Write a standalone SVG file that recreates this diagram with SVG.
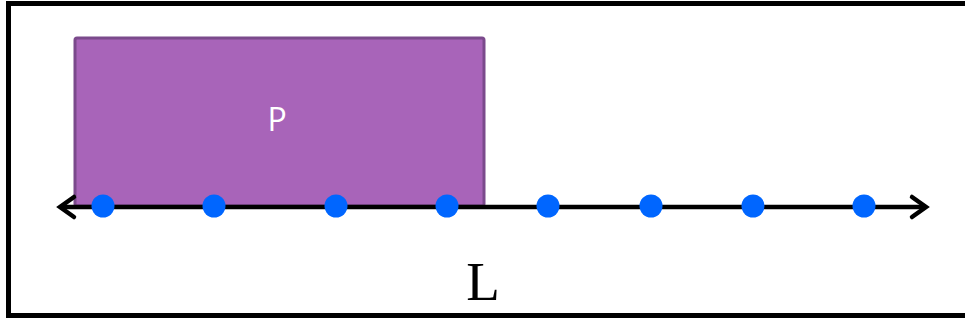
<svg xmlns="http://www.w3.org/2000/svg" width="965" height="322" viewBox="0 0 965 322">
<style>
.frame{fill:none;stroke:#000;stroke-width:5}
.block{fill:#a864b9;stroke:#7b4a8c;stroke-width:3}
.axis{stroke:#000;stroke-width:4.5;fill:none}
.dot{fill:#0066ff}
.arrow{fill:none;stroke:#000;stroke-width:4.5;stroke-linecap:round;stroke-linejoin:miter}
</style>
<rect width="965" height="322" fill="#fff"/>
<rect class="frame" x="8.5" y="3.5" width="970" height="312"/>
<g id="P">
<rect class="block" x="75" y="38" width="409" height="168" rx="2"/>
<text x="277" y="131" font-family="'Open Sans', 'DejaVu Sans', sans-serif" font-size="32" fill="#fff" text-anchor="middle">P</text>
</g>
<g id="connectors">
<line class="axis" x1="60" y1="207" x2="926" y2="207"/>
<polyline class="arrow" points="74,197 60,207 74,217"/>
<polyline class="arrow" points="912,197 926,207 912,217"/>
</g>
<g id="points">
<circle class="dot" cx="103" cy="206" r="11.5"/>
<circle class="dot" cx="214" cy="206" r="11.5"/>
<circle class="dot" cx="336" cy="206" r="11.5"/>
<circle class="dot" cx="447" cy="206" r="11.5"/>
<circle class="dot" cx="548" cy="206" r="11.5"/>
<circle class="dot" cx="651" cy="206" r="11.5"/>
<circle class="dot" cx="753" cy="206" r="11.5"/>
<circle class="dot" cx="864" cy="206" r="11.5"/>
</g>
<g id="L">
<text x="483" y="300" font-family="'Liberation Serif', serif" font-size="55" fill="#000" text-anchor="middle">L</text>
</g>
</svg>
